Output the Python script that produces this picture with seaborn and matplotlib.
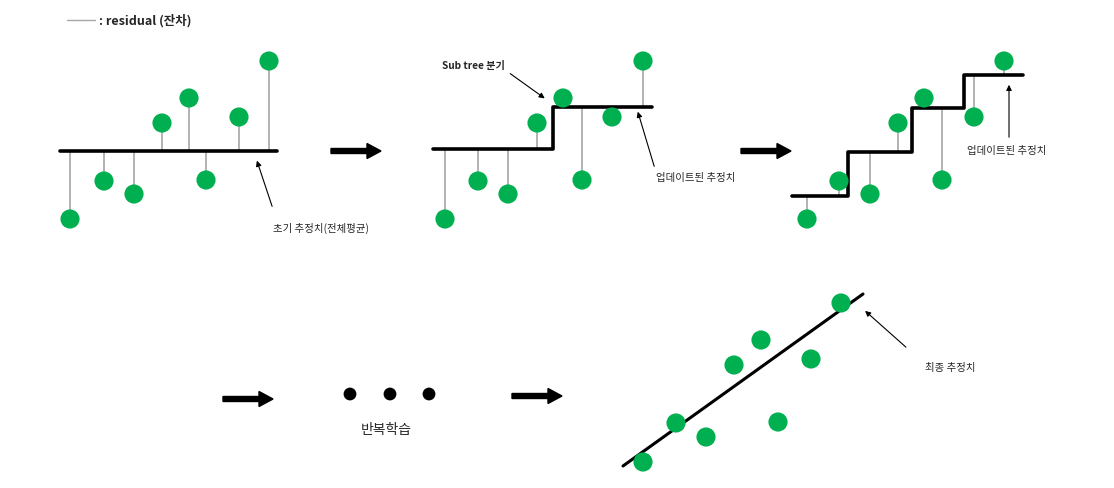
import seaborn as sns
import matplotlib.pyplot as plt
import pandas as pd

# observations (pixel layout of the diagram, y grows downward)
obs_y = [220, 182, 195, 124, 99, 181, 118, 62]
p1_x = [70, 104, 134, 162, 189, 206, 239, 269]
p2_x = [445, 478, 508, 537, 563, 582, 612, 643]
p3_x = [807, 839, 870, 898, 924, 942, 974, 1004]

# fitted values under each observation
p1_fit = [152] * 8
p2_fit = [150, 150, 150, 150, 108, 108, 108, 108]
p3_fit = [197, 197, 153, 153, 109, 109, 76, 76]

# estimator lines
p1_line_x = [60, 277]
p1_line_y = [152, 152]
p2_step_x = [433, 553, 652]
p2_step_y = [150, 108, 108]
p3_step_x = [792, 848, 912, 964, 1023]
p3_step_y = [197, 153, 109, 76, 76]

# final panel
p4_x = [643, 676, 706, 734, 761, 778, 811, 841]
p4_y = [463, 424, 438, 366, 341, 423, 360, 304]
p4_line_x = [623, 863]
p4_line_y = [467, 295]

dots_x = [350, 390, 429]
dots_y = [395, 395, 395]

GREEN = '#00B050'

sns.set_style('white')
plt.rcParams['font.family'] = ['Noto Sans CJK KR', 'DejaVu Sans']

fig = plt.figure(figsize=(11.14, 4.89), dpi=100)
ax = fig.add_axes([0, 0, 1, 1])
ax.set_xlim(0, 1114)
ax.set_ylim(489, 0)
ax.axis('off')

# residuals
for xs, fit in [(p1_x, p1_fit), (p2_x, p2_fit), (p3_x, p3_fit)]:
    ax.vlines(xs, fit, obs_y, color='#a6a6a6', lw=1.2, zorder=1)

# estimators
ax.plot(p1_line_x, p1_line_y, color='black', lw=2.6, zorder=2)
ax.plot(p2_step_x, p2_step_y, color='black', lw=2.6, drawstyle='steps-post', zorder=2)
ax.plot(p3_step_x, p3_step_y, color='black', lw=2.6, drawstyle='steps-post', zorder=2)
sns.lineplot(x=p4_line_x, y=p4_line_y, color='black', lw=2.2, ax=ax, zorder=2)

# points
pts = pd.DataFrame({
    'x': p1_x + p2_x + p3_x + p4_x,
    'y': obs_y * 3 + p4_y,
})
sns.scatterplot(data=pts, x='x', y='y', color=GREEN, s=190, edgecolor='none', ax=ax, zorder=3)
sns.scatterplot(x=dots_x, y=dots_y, color='black', s=85, edgecolor='none', ax=ax, zorder=3)

# block arrows between panels
for x0, y0 in [(331, 152), (741, 152), (223, 400), (512, 397)]:
    ax.arrow(x0, y0, 36, 0, width=5, head_width=15, head_length=14,
             color='black', length_includes_head=False, zorder=2)

# legend for residual
ax.plot([67, 95], [21, 21], color='#a6a6a6', lw=1)
ax.text(99, 21, ': residual (잔차)', fontsize=9, fontweight='bold', va='center', ha='left')

# annotations
ap = dict(arrowstyle='-|>', color='black', lw=0.8, mutation_scale=8)
ax.annotate('', xy=(256, 159), xytext=(273, 210), arrowprops=ap)
ax.text(273, 228, '초기 추정치(전체평균)', fontsize=7.5, va='center', ha='left')

ax.text(442, 66, 'Sub tree 분기', fontsize=7.3, fontweight='bold', va='center', ha='left')
ax.annotate('', xy=(547, 101), xytext=(508, 73), arrowprops=ap)

ax.annotate('', xy=(637, 110), xytext=(655, 170), arrowprops=ap)
ax.text(656, 178, '업데이트된 추정치', fontsize=7.5, va='center', ha='left')

ax.annotate('', xy=(1009, 83), xytext=(1009, 141), arrowprops=ap)
ax.text(967, 151, '업데이트된 추정치', fontsize=7.5, va='center', ha='left')

ax.annotate('', xy=(863, 310), xytext=(908, 350), arrowprops=ap)
ax.text(925, 368, '최종 추정치', fontsize=7.5, va='center', ha='left')

ax.text(386, 430, '반복학습', fontsize=10, va='center', ha='center')

fig.savefig('out.png', dpi=100)
